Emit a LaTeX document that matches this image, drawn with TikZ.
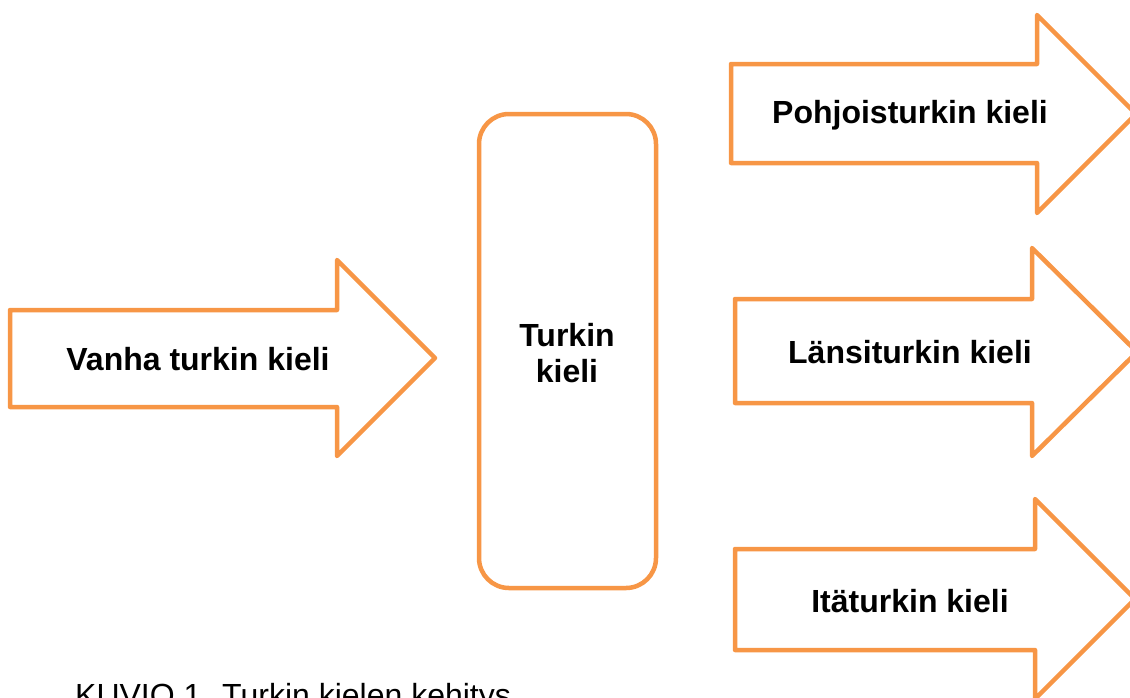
\documentclass[tikz,border=0pt]{standalone}
\usepackage{fontspec}
\setmainfont{Liberation Sans}
\definecolor{accentorange}{HTML}{F79646}
\begin{document}
\begin{tikzpicture}[x=1pt,y=-1pt,
  outlinebox/.style={draw=accentorange,line width=4.5pt,line join=round,fill=white},
  lbl/.style={font=\fontsize{32}{36}\selectfont\bfseries,align=center,inner sep=0pt}]
\useasboundingbox (0,0) rectangle (1130,697);
\clip (0,0) rectangle (1130,697);
% left arrow
\draw[outlinebox] (10,310) -- (337,310) -- (337,260) -- (435,358) -- (337,456) -- (337,407) -- (10,407) -- cycle;
\node[lbl] (old) at (198,359) {Vanha turkin kieli};
% rounded box
\draw[outlinebox,rounded corners=30pt] (479,114) rectangle (656,588);
\node[lbl] (mid) at (567,353) {Turkin\\kieli};
% right arrows
\draw[outlinebox] (731,64) -- (1037,64) -- (1037,15) -- (1136,114) -- (1037,213) -- (1037,163) -- (731,163) -- cycle;
\node[lbl] (north) at (910,115) {Pohjoisturkin kieli};
\draw[outlinebox] (735,299) -- (1032,299) -- (1032,248) -- (1137,352) -- (1032,456) -- (1032,403) -- (735,403) -- cycle;
\node[lbl] (west) at (910,352) {Länsiturkin kieli};
\draw[outlinebox] (735,549) -- (1035,549) -- (1035,499) -- (1135,599) -- (1035,699) -- (1035,650) -- (735,650) -- cycle;
\node[lbl] (east) at (910,601) {Itäturkin kieli};
% caption
\node[anchor=base west,inner sep=0pt,font=\fontsize{32}{36}\selectfont] (cap) at (75,706) {KUVIO 1. Turkin kielen kehitys};
\end{tikzpicture}
\end{document}
